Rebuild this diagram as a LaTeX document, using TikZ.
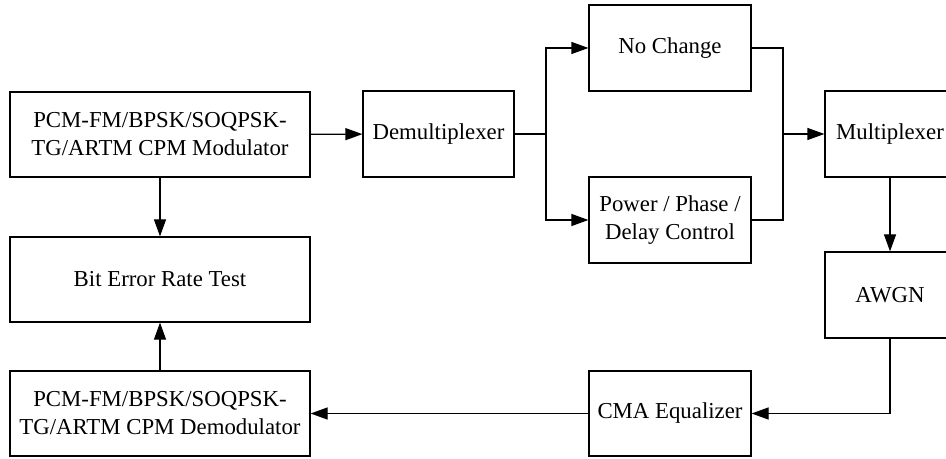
\documentclass[tikz,border=0pt]{standalone}
\usepackage{fontspec}
\setmainfont{Liberation Serif}
\usetikzlibrary{arrows.meta}

\tikzset{
  blk/.style={draw, line width=0.6pt, align=center, inner sep=0pt,
    font=\fontsize{11.4}{14}\selectfont},
  wire/.style={line width=0.6pt},
  arw/.style={wire, -{Triangle[length=8.5pt, width=6pt]}}
}

\begin{document}
\begin{tikzpicture}[x=0.5pt, y=-0.5pt]
    \useasboundingbox (0,0) rectangle (946,459);
    % blocks
    \node[blk, minimum width=150pt, minimum height=42.5pt] (mod) at (160,134.5) {PCM-FM/BPSK/SOQPSK-\\TG/ARTM CPM Modulator};
    \node[blk, minimum width=75.5pt, minimum height=43pt] (demux) at (438.5,134) {Demultiplexer};
    \node[blk, minimum width=81pt, minimum height=43pt] (nochg) at (670,48) {No Change};
    \node[blk, minimum width=81pt, minimum height=43pt] (pwr) at (670,220) {Power / Phase /\\Delay Control};
    \node[blk, minimum width=65pt, minimum height=43pt] (mux) at (890,134) {Multiplexer};
    \node[blk, minimum width=65pt, minimum height=43pt] (awgn) at (890,295) {AWGN};
    \node[blk, minimum width=81pt, minimum height=42.5pt] (cma) at (670,413.5) {CMA Equalizer};
    \node[blk, minimum width=150pt, minimum height=42.5pt] (demod) at (160,413.5) {PCM-FM/BPSK/SOQPSK-\\TG/ARTM CPM Demodulator};
    \node[blk, minimum width=150pt, minimum height=42.5pt] (ber) at (160,279.5) {Bit Error Rate Test};
    \coordinate (split) at (546,134);
    \coordinate (merge) at (783,134);
    % connectors
    \draw[arw] (mod) -- (demux);
    \draw[wire] (demux) -- (split);
    \draw[arw] (split) |- (nochg);
    \draw[arw] (split) |- (pwr);
    \draw[wire] (nochg) -| (merge);
    \draw[wire] (pwr) -| (merge);
    \draw[arw] (merge) -- (mux);
    \draw[arw] (mux) -- (awgn);
    \draw[arw] (awgn) |- (cma);
    \draw[arw] (cma) -- (demod);
    \draw[arw] (demod) -- (ber);
    \draw[arw] (mod) -- (ber);
  \end{tikzpicture}
\end{document}
